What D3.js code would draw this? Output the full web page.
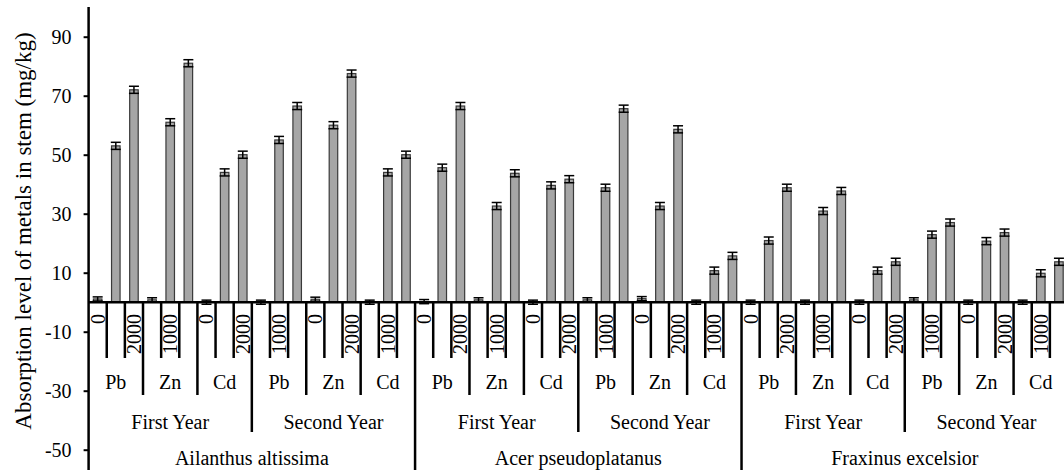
<!DOCTYPE html>
<html><head><meta charset="utf-8">
<script src="https://cdn.jsdelivr.net/npm/d3@7"></script>
<style>html,body{margin:0;padding:0;background:#fff;overflow:hidden}svg{display:block}</style>
</head><body>
<svg id="c" width="1064" height="470"></svg>
<script>
const species = ["Ailanthus altissima", "Acer pseudoplatanus", "Fraxinus excelsior"];
const years = ["First Year", "Second Year"];
const metals = ["Pb", "Zn", "Cd"];
const concs = ["0", "1000", "2000"];
const yTicks = [-50, -30, -10, 10, 30, 50, 70, 90];
const yTitle = "Absorption level of metals in stem (mg/kg)";
// values ordered species > year > metal > concentration
const values = [
  1.1, 53, 72,   0.8, 61, 81,   0, 44, 50,
  0, 55, 66.5,   1, 60, 77.5,   0, 44, 50,
  0.2, 45.6, 66.5,  0.8, 32.6, 43.7,  0, 39.6, 41.7,
  0.8, 38.8, 65.6,  1.2, 32.6, 58.6,  0, 10.7, 15.7,
  0, 20.9, 38.8,  0, 30.9, 37.7,  0, 10.7, 13.7,
  0.8, 22.9, 27,  0, 20.7, 23.6,  0, 9.8, 13.7
];
const errors = [
  0.7, 1.2, 1.2,  0.7, 1.2, 1.2,  0.7, 1.2, 1.2,
  0.7, 1.2, 1.2,  0.7, 1.2, 1.2,  0.7, 1.2, 1.2,
  0.7, 1.2, 1.2,  0.7, 1.2, 1.2,  0.7, 1.2, 1.2,
  0.7, 1.2, 1.2,  0.7, 1.2, 1.2,  0.7, 1.2, 1.2,
  0.7, 1.2, 1.2,  0.7, 1.2, 1.2,  0.7, 1.2, 1.2,
  0.7, 1.2, 1.2,  0.7, 1.2, 1.2,  0.7, 1.2, 1.2
];

const cats = [];
species.forEach((s, si) => years.forEach((yr, yi) => metals.forEach((m, mi) => concs.forEach((c, ci) => {
  cats.push({i: cats.length, s, yr, m, c, si, yi, mi, ci});
}))));

const svg = d3.select("#c");
const font = "'Liberation Serif','Times New Roman',serif";
const left = 88.6, right = 1068;
const x = d3.scaleBand().domain(cats.map(d => d.i)).range([left, right]).paddingInner(0.53).paddingOuter(0.265);
const step = x.step();
const y = d3.scaleLinear().domain([-60, 100]).range([479.2, 7.2]);

// bars
svg.append("g").selectAll("rect").data(cats).join("rect")
  .attr("x", d => x(d.i))
  .attr("width", x.bandwidth())
  .attr("y", d => y(Math.max(0, values[d.i])))
  .attr("height", d => Math.abs(y(values[d.i]) - y(0)))
  .attr("fill", "#a6a6a6").attr("stroke", "#3a3a3a").attr("stroke-width", 1.2);

// error bars
const eg = svg.append("g").attr("stroke", "#000").attr("stroke-width", 1.5);
cats.forEach(d => {
  const cx = x(d.i) + x.bandwidth() / 2, v = values[d.i], e = errors[d.i];
  eg.append("line").attr("x1", cx).attr("x2", cx).attr("y1", y(v - e)).attr("y2", y(v + e));
  [v - e, v + e].forEach(t => eg.append("line").attr("x1", cx - 5).attr("x2", cx + 5).attr("y1", y(t)).attr("y2", y(t)));
});

// y axis
const ya = svg.append("g").attr("transform", `translate(${left},0)`)
  .call(d3.axisLeft(y).tickValues(yTicks).tickFormat(d => String(d)).tickSize(5).tickPadding(12).tickSizeOuter(0));
ya.select(".domain").remove();
ya.selectAll(".tick line").attr("stroke", "#000").attr("stroke-width", 2);
ya.selectAll(".tick text").attr("font-family", font).attr("font-size", 20).attr("fill", "#000");
svg.append("line").attr("x1", left).attr("x2", left).attr("y1", 7).attr("y2", 470)
  .attr("stroke", "#000").attr("stroke-width", 2.5);

// zero baseline
svg.append("line").attr("x1", left).attr("x2", right).attr("y1", y(0)).attr("y2", y(0))
  .attr("stroke", "#000").attr("stroke-width", 2.5);

// category separators
const y0 = y(0);
const sep = svg.append("g").attr("stroke", "#000").attr("stroke-width", 2.5);
for (let k = 1; k < cats.length; k++) {
  const bx = left + k * step;
  let bottom = 358;
  if (k % 18 === 0) bottom = 472;
  else if (k % 9 === 0) bottom = 432;
  else if (k % 3 === 0) bottom = 395;
  sep.append("line").attr("x1", bx).attr("x2", bx).attr("y1", y0).attr("y2", bottom);
}

// concentration labels (every other shown)
svg.append("g").selectAll("text").data(cats.filter(d => d.i % 2 === 0)).join("text")
  .attr("transform", d => `translate(${x(d.i) + x.bandwidth() / 2},314) rotate(-90)`)
  .attr("text-anchor", "end").attr("dominant-baseline", "central")
  .attr("font-family", font).attr("font-size", 20).text(d => d.c);

// metal labels
const groups3 = d3.range(cats.length / 3);
svg.append("g").selectAll("text").data(groups3).join("text")
  .attr("x", g => left + (g * 3 + 1.5) * step).attr("y", 389)
  .attr("text-anchor", "middle").attr("font-family", font).attr("font-size", 20)
  .text(g => metals[g % 3]);

// year labels
const groups9 = d3.range(cats.length / 9);
svg.append("g").selectAll("text").data(groups9).join("text")
  .attr("x", g => left + (g * 9 + 4.5) * step).attr("y", 429)
  .attr("text-anchor", "middle").attr("font-family", font).attr("font-size", 20)
  .text(g => years[g % 2]);

// species labels
svg.append("g").selectAll("text").data(species).join("text")
  .attr("x", (s, i) => left + (i * 18 + 9) * step).attr("y", 465)
  .attr("text-anchor", "middle").attr("font-family", font).attr("font-size", 20)
  .text(s => s);

// y title
svg.append("text").attr("transform", "translate(31,231) rotate(-90)")
  .attr("text-anchor", "middle").attr("font-family", font).attr("font-size", 23)
  .text(yTitle);
</script>
</body></html>
